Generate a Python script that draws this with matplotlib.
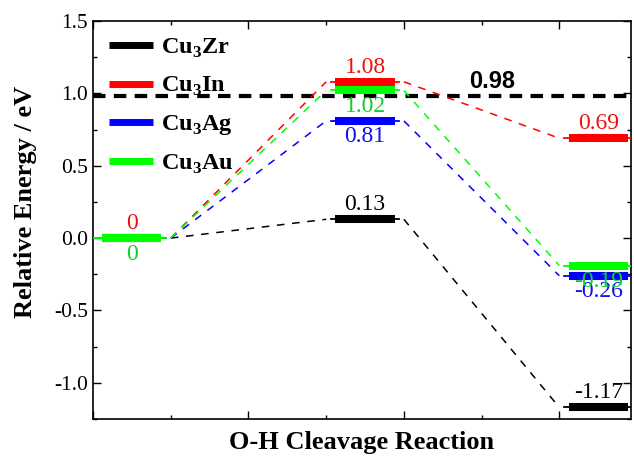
import matplotlib
matplotlib.use("Agg")
import matplotlib.pyplot as plt
from matplotlib.ticker import MultipleLocator, FormatStrFormatter

plt.rcParams["font.family"] = ["Liberation Serif", "DejaVu Serif"]
plt.rcParams["mathtext.fontset"] = "custom"
plt.rcParams["mathtext.rm"] = "Liberation Serif"
plt.rcParams["mathtext.bf"] = "Liberation Serif:bold"
plt.rcParams["axes.unicode_minus"] = False

# energy profile data (eV) for the three states of each alloy
alloys = ["Cu$_\\mathbf{3}$Zr", "Cu$_\\mathbf{3}$In", "Cu$_\\mathbf{3}$Ag", "Cu$_\\mathbf{3}$Au"]
colors = ["black", "#ff0000", "#0000ff", "#00ff00"]
text_colors = ["black", "#ee1111", "#1111ee", "#11cc33"]
initial = [0.0, 0.0, 0.0, 0.0]
transition = [0.13, 1.08, 0.81, 1.02]
final = [-1.17, 0.69, -0.26, -0.19]
reference_level = 0.98

# label placement: +1 above the bar, -1 below, 0 none
ini_side = [0, 1, 0, -1]
mid_side = [1, 1, -1, -1]
fin_side = [1, 1, -1, -1]

# level positions on the reaction coordinate
levels = [(0.0, 0.5), (1.5, 2.0), (3.0, 3.5)]
stub = 0.03
pad = 0.06

fig = plt.figure(figsize=(6.34, 4.59), dpi=100)
ax = fig.add_axes([0.1467, 0.0871, 0.8483, 0.8671])

ax.axhline(reference_level, color="black", lw=3.0, ls=(0, (3, 2)), zorder=2)
ax.text(2.57, 1.085, f"{reference_level:.2f}", family="Liberation Sans",
        fontweight="bold", fontsize=17, ha="center", va="center")

for i, name in enumerate(alloys):
    energies = [initial[i], transition[i], final[i]]
    c = colors[i]
    # dashed connectors between states
    for k in range(2):
        x0 = levels[k][1]
        x1 = levels[k + 1][0]
        ax.plot([x0, x1], [energies[k], energies[k + 1]], color=c, lw=1.1,
                ls=(0, (5, 5)), zorder=3)
    for k, (xa, xb) in enumerate(levels):
        lo = xa if k == 0 else xa + stub
        ax.plot([lo, xb - stub], [energies[k]] * 2, color=c, lw=1.3, zorder=4 + i)
        ax.plot([xa + pad, xb - pad], [energies[k]] * 2, color=c, lw=5.8,
                solid_capstyle="butt", zorder=4 + i,
                label=name if k == 0 else None)

    sides = [ini_side[i], mid_side[i], fin_side[i]]
    for k, (xa, xb) in enumerate(levels):
        s = sides[k]
        if s == 0:
            continue
        txt = f"{energies[k]:.2f}" if k > 0 else "0"
        ax.annotate(txt, xy=((xa + xb) / 2, energies[k]),
                    xytext=(0, 10.5 if s > 0 else -11.5),
                    textcoords="offset points", ha="center", va="center",
                    fontsize=17, color=text_colors[i], zorder=10 + i)

ax.set_xlim(0, 3.46)
ax.set_ylim(-1.25, 1.5)
ax.xaxis.set_major_locator(MultipleLocator(1))
ax.xaxis.set_minor_locator(MultipleLocator(0.5))
ax.yaxis.set_major_locator(MultipleLocator(0.5))
ax.yaxis.set_minor_locator(MultipleLocator(0.25))
ax.yaxis.set_major_formatter(FormatStrFormatter("%.1f"))
ax.tick_params(which="both", direction="in", top=True, right=True, width=1.0)
ax.tick_params(which="major", length=5.5, labelsize=15.5)
ax.tick_params(which="minor", length=3)
ax.tick_params(axis="x", labelbottom=False)
for sp in ax.spines.values():
    sp.set_linewidth(1.2)

ax.set_ylabel("Relative Energy / eV", fontsize=19, fontweight="bold")
ax.yaxis.set_label_coords(-0.104, 0.545)
ax.set_xlabel("O-H Cleavage Reaction", fontsize=19, fontweight="bold")
ax.xaxis.set_label_coords(0.5, -0.03)

leg = ax.legend(loc="upper left", bbox_to_anchor=(0.0, 1.0), frameon=False,
                prop={"weight": "bold", "size": 17.5}, handlelength=1.8,
                handletextpad=0.35, labelspacing=0.62, borderaxespad=0.25)
for line in leg.get_lines():
    line.set_linewidth(5)

fig.savefig("out.png", dpi=100)
